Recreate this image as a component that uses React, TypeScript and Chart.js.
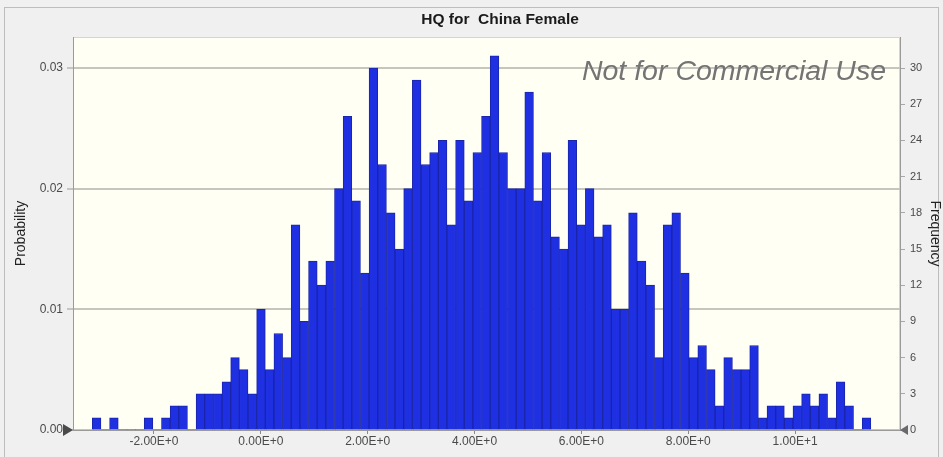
import React, { useEffect, useRef } from 'react';
import { Chart, registerables } from 'chart.js';

Chart.register(...registerables);

// Histogram bins: first lower edge and common width (in HQ units)
const binStart = -3.154;
const binWidth = 0.1619;

// Frequency per bin (1000 trials)
const frequencies = [
  1, 0, 1, 0, 0, 0, 1, 0, 1, 2,
  2, 0, 3, 3, 3, 4, 6, 5, 3, 10,
  5, 8, 6, 17, 9, 14, 12, 14, 20, 26,
  19, 13, 30, 22, 18, 15, 20, 29, 22, 23,
  24, 17, 24, 19, 23, 26, 31, 23, 20, 20,
  28, 19, 23, 16, 15, 24, 17, 20, 16, 17,
  10, 10, 18, 14, 12, 6, 17, 18, 13, 6,
  7, 5, 2, 6, 5, 5, 7, 1, 2, 2,
  1, 2, 3, 2, 3, 1, 4, 2, 0, 1,
];
const trials = 1000;

const xTicks = [-2, 0, 2, 4, 6, 8, 10];
const probabilityTicks = [0, 0.01, 0.02, 0.03];
const frequencyTicks = [0, 3, 6, 9, 12, 15, 18, 21, 24, 27, 30];

const xMin = -3.515;
const xMax = 11.963;
const frequencyMax = 32.57;

const chartTitle = 'HQ for  China Female';
const watermark = 'Not for Commercial Use';

const FONT = '"Liberation Sans", Arial, Helvetica, sans-serif';

const panelPlugin = {
  id: 'panel',
  beforeDraw(chart: any) {
    const { ctx, chartArea: a, width, height } = chart;
    ctx.save();
    ctx.fillStyle = '#f0f0f0';
    ctx.fillRect(0, 0, width, height);
    ctx.strokeStyle = '#bdbdbd';
    ctx.lineWidth = 1;
    ctx.strokeRect(4.5, 7.5, width - 9, height - 7);
    ctx.fillStyle = '#fffff4';
    ctx.fillRect(a.left, a.top, a.right - a.left, a.bottom - a.top);
    ctx.strokeStyle = '#d6d6cc';
    ctx.strokeRect(a.left + 0.5, a.top + 0.5, a.right - a.left - 1, a.bottom - a.top - 1);
    // chart heading
    ctx.font = `bold 15.5px ${FONT}`;
    ctx.fillStyle = '#1a1a1a';
    ctx.textAlign = 'center';
    ctx.textBaseline = 'middle';
    ctx.fillText(chartTitle, 500, 19.5);
    ctx.restore();
  },
  afterDraw(chart: any) {
    const { ctx, chartArea: a } = chart;
    ctx.save();
    // watermark
    ctx.font = `italic 28.5px ${FONT}`;
    ctx.fillStyle = '#747474';
    ctx.textAlign = 'right';
    ctx.textBaseline = 'alphabetic';
    ctx.fillText(watermark, a.right - 14, 80);
    // certainty grabbers at both ends of the baseline
    ctx.fillStyle = '#4a4a4a';
    ctx.beginPath();
    ctx.moveTo(a.left - 10, a.bottom - 6);
    ctx.lineTo(a.left, a.bottom);
    ctx.lineTo(a.left - 10, a.bottom + 6);
    ctx.closePath();
    ctx.fill();
    ctx.fillStyle = '#6a6a6a';
    ctx.beginPath();
    ctx.moveTo(a.right + 8, a.bottom - 5);
    ctx.lineTo(a.right, a.bottom);
    ctx.lineTo(a.right + 8, a.bottom + 5);
    ctx.closePath();
    ctx.fill();
    ctx.restore();
  },
};

export default function App() {
  const canvasRef = useRef<HTMLCanvasElement | null>(null);

  useEffect(() => {
    document.body.style.margin = '0';
    const canvas = canvasRef.current;
    if (!canvas) return;

    const points = frequencies.map((f, i) => ({
      x: binStart + (i + 0.5) * binWidth,
      y: f,
    }));

    const chart = new Chart(canvas, {
      type: 'bar',
      data: {
        datasets: [
          {
            data: points as any,
            yAxisID: 'yf',
            backgroundColor: '#1f30e2',
            borderColor: '#1a25a8',
            borderWidth: (c: any) => (c.raw && c.raw.y ? 1 : 0),
            borderSkipped: 'bottom',
            barPercentage: 1,
            categoryPercentage: 1,
          },
        ],
      },
      options: {
        responsive: false,
        animation: false,
        layout: { padding: { top: 37, left: 0, right: 0, bottom: 0 } },
        plugins: {
          legend: { display: false },
          tooltip: { enabled: false },
          title: { display: false },
        },
        scales: {
          x: {
            type: 'linear',
            offset: false,
            min: xMin,
            max: xMax,
            afterFit: (s: any) => {
              s.height = 27;
            },
            afterBuildTicks: (s: any) => {
              s.ticks = xTicks.map((v) => ({ value: v }));
            },
            ticks: {
              color: '#4a4a4a',
              font: { family: FONT, size: 12 },
              padding: 0,
              maxRotation: 0,
              callback: (v: any) => Number(v).toExponential(2).toUpperCase(),
            },
            grid: {
              offset: false,
              drawOnChartArea: false,
              drawTicks: true,
              tickLength: 4,
              color: '#8a8a8a',
            },
            border: { display: true, color: '#9a9a9a' },
          },
          yp: {
            type: 'linear',
            position: 'left',
            min: 0,
            max: frequencyMax / trials,
            afterFit: (s: any) => {
              s.width = 73;
            },
            afterBuildTicks: (s: any) => {
              s.ticks = probabilityTicks.map((v) => ({ value: v }));
            },
            ticks: {
              color: '#4a4a4a',
              font: { family: FONT, size: 12 },
              padding: 4,
              callback: (v: any) => Number(v).toFixed(2),
            },
            grid: {
              color: '#c6c6be',
              lineWidth: 2,
              tickLength: 6,
              tickColor: '#9a9a9a',
              tickWidth: 1,
            },
            border: { display: true, color: '#9a9a9a' },
            title: {
              display: true,
              text: 'Probability',
              color: '#222',
              font: { family: FONT, size: 14 },
              padding: { top: 13, bottom: 0 },
            },
          },
          yf: {
            type: 'linear',
            position: 'right',
            min: 0,
            max: frequencyMax,
            afterFit: (s: any) => {
              s.width = 43;
            },
            afterBuildTicks: (s: any) => {
              s.ticks = frequencyTicks.map((v) => ({ value: v }));
            },
            ticks: {
              color: '#4a4a4a',
              font: { family: FONT, size: 11 },
              padding: 5,
            },
            grid: {
              drawOnChartArea: false,
              tickLength: 5,
              color: '#a8a8a8',
            },
            border: { display: true, color: '#9a9a9a' },
            title: {
              display: true,
              text: 'Frequency',
              color: '#222',
              font: { family: FONT, size: 14 },
              padding: { top: 0, bottom: 0 },
            },
          },
        },
      },
      plugins: [panelPlugin],
    });

    return () => chart.destroy();
  }, []);

  return (
    <div style={{ width: 943, height: 457 }}>
      <canvas ref={canvasRef} width={943} height={457} />
    </div>
  );
}
